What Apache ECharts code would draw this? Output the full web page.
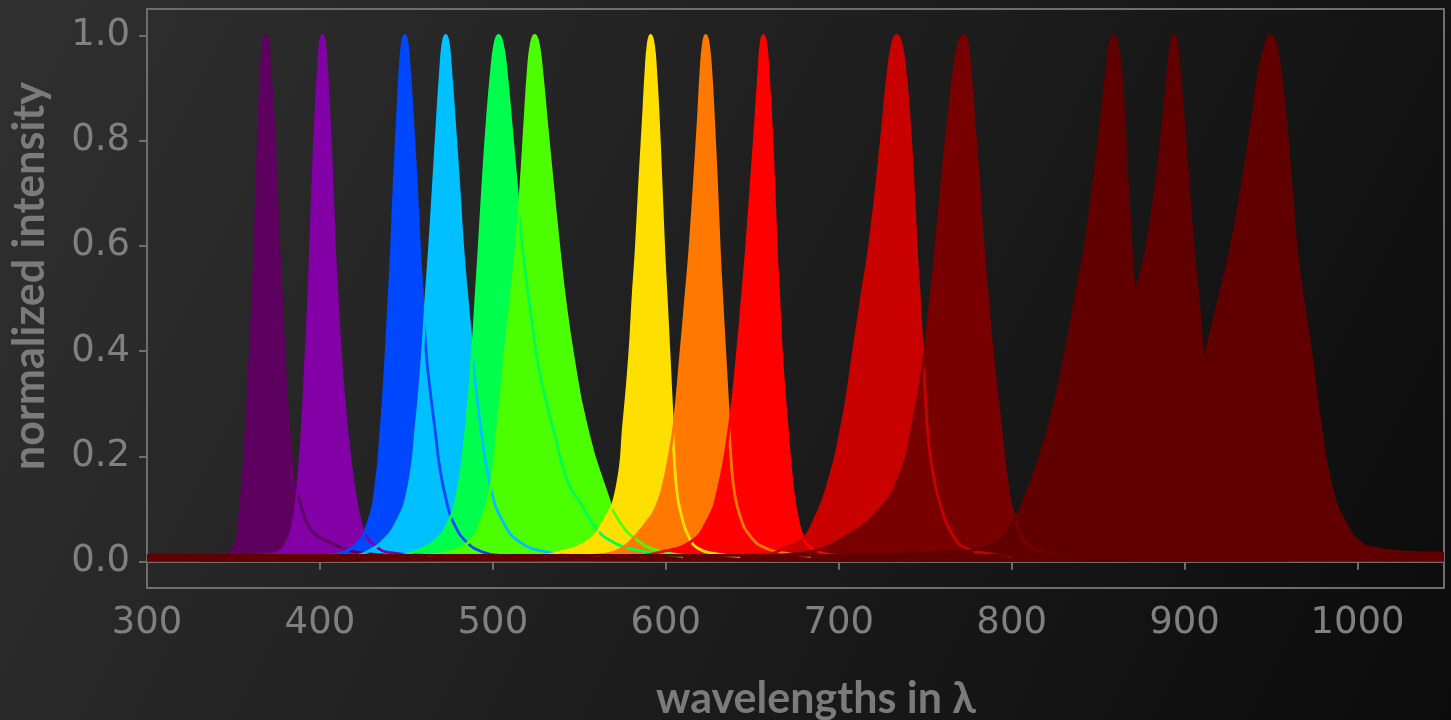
<!DOCTYPE html>
<html>
<head>
<meta charset="utf-8">
<script src="https://cdn.jsdelivr.net/npm/echarts@6/dist/echarts.min.js"></script>
<style>
html,body{margin:0;padding:0;background:#1c1c1c;}
#chart{width:1451px;height:720px;}
</style>
</head>
<body>
<div id="chart"></div>
<script>
// ---- tick labels ----
const xTicks = [300, 400, 500, 600, 700, 800, 900, 1000];
const yTicks = [0, 0.2, 0.4, 0.6, 0.8, 1.0];

// ---- series names (peak wavelengths) ----
const peakNames = ['367 nm','400 nm','448 nm','472 nm','503 nm','524 nm','591 nm','623 nm','656 nm','733 nm','771 nm','859 nm','894 nm','949 nm'];

// ---- series values: [wavelength, normalized intensity] ----
const peak367 = [[330,0.012],[344,0.014],[348,0.018],[351.5,0.037],[353.2,0.075],[355.1,0.138],[357.6,0.265],[359.6,0.391],[361.3,0.51],[362.3,0.587],[363.5,0.713],[364.8,0.839],[366.1,0.934],[367.3,0.985],[368.6,1.0],[370,0.985],[371.3,0.934],[373,0.839],[374.8,0.713],[376.4,0.587],[377.6,0.51],[379.4,0.391],[381.7,0.265],[385.5,0.15],[388.5,0.113],[392.3,0.075],[398,0.05],[405.8,0.037],[413.5,0.025],[421,0.018],[440,0.012]];
const peak400 = [[360,0.012],[372,0.014],[376,0.018],[381.1,0.037],[384.6,0.075],[387.1,0.138],[390,0.265],[391.9,0.391],[393.6,0.51],[394.5,0.587],[395.9,0.713],[397.5,0.839],[399.1,0.934],[400.2,0.985],[401.4,1.0],[402.7,0.985],[403.9,0.934],[405.4,0.839],[407.1,0.713],[408.6,0.587],[409.8,0.51],[412,0.391],[415.1,0.265],[419.7,0.138],[423.5,0.075],[427,0.047],[432.8,0.028],[438.6,0.018],[460,0.012]];
const peak448 = [[404,0.012],[413.5,0.018],[422.2,0.037],[428,0.075],[432.2,0.138],[435.7,0.265],[438.2,0.391],[440.1,0.51],[441.3,0.587],[442.9,0.713],[444.8,0.839],[446.3,0.934],[447.7,0.985],[449,1.0],[450.4,0.985],[451.7,0.934],[453.6,0.839],[455.8,0.713],[457.7,0.587],[459.2,0.51],[461.6,0.391],[463.6,0.328],[466.5,0.252],[469.4,0.176],[473.3,0.113],[477.1,0.075],[484.9,0.037],[494.5,0.018],[504,0.012]];
const peak472 = [[422,0.012],[427,0.018],[435.7,0.037],[444.4,0.075],[451.1,0.138],[455.9,0.265],[459.2,0.391],[461.5,0.51],[463.2,0.587],[465.6,0.713],[467.9,0.839],[469.8,0.934],[471.2,0.985],[472.7,1.0],[474.2,0.985],[475.6,0.934],[477.7,0.839],[480.3,0.713],[482.8,0.587],[484.8,0.51],[488.3,0.391],[492.6,0.265],[499,0.138],[506,0.075],[515.7,0.037],[531.1,0.018],[543.5,0.012]];
const peak503 = [[447,0.012],[454,0.018],[465.6,0.037],[474.3,0.075],[480,0.138],[484.9,0.265],[488.1,0.391],[490.4,0.51],[491.9,0.587],[494.2,0.713],[496.8,0.839],[499.3,0.934],[501.3,0.985],[503.3,1.0],[505.4,0.985],[507.6,0.934],[510.3,0.839],[513.7,0.713],[517.4,0.587],[520.4,0.51],[525.3,0.391],[529.1,0.328],[534.9,0.252],[543.5,0.15],[550.4,0.113],[560,0.062],[569.6,0.037],[579.3,0.025],[596.6,0.015],[610,0.01]];
const peak524 = [[462,0.012],[474,0.018],[486,0.037],[493,0.075],[498.7,0.138],[503.2,0.265],[507,0.391],[510.8,0.51],[513.3,0.587],[516.2,0.713],[518.6,0.839],[520.5,0.934],[522.3,0.985],[524.2,1.0],[526.2,0.985],[528.2,0.934],[530.9,0.839],[534.6,0.713],[538.5,0.587],[541.5,0.5],[546.3,0.391],[553.5,0.265],[564.9,0.138],[573.5,0.075],[585.1,0.037],[596.6,0.02],[610,0.012]];
const peak591 = [[530,0.012],[538.8,0.018],[554.2,0.037],[563.9,0.075],[571.6,0.138],[575.8,0.265],[579.1,0.391],[581.2,0.51],[582.8,0.587],[584.8,0.713],[587,0.839],[588.6,0.934],[589.9,0.985],[591.2,1.0],[592.7,0.985],[594.1,0.934],[595.7,0.839],[597.3,0.713],[598.9,0.587],[600.1,0.51],[601.9,0.391],[603.8,0.265],[606.2,0.138],[609.1,0.087],[613,0.049],[618.8,0.025],[629.4,0.015],[643,0.01]];
const peak623 = [[558,0.012],[569.6,0.018],[579,0.037],[589,0.075],[594,0.1],[598,0.138],[602,0.201],[605,0.265],[608.6,0.391],[611.8,0.51],[613.8,0.587],[616.4,0.713],[618.8,0.839],[620.4,0.934],[621.8,0.985],[623.1,1.0],[624.5,0.985],[626,0.934],[627.6,0.839],[629.4,0.713],[631,0.587],[632.2,0.51],[634.2,0.391],[636.4,0.265],[637.6,0.201],[639.4,0.138],[642.9,0.087],[648.7,0.049],[658.3,0.025],[671.8,0.015],[684,0.01]];
const peak656 = [[585,0.01],[596.6,0.018],[614,0.037],[623.6,0.075],[630.4,0.138],[637.1,0.265],[641.3,0.391],[644.5,0.51],[646.5,0.587],[649.3,0.713],[652,0.839],[653.9,0.934],[655.1,0.985],[656.4,1.0],[657.8,0.985],[659.1,0.934],[660.8,0.839],[662.5,0.713],[664,0.587],[665.2,0.51],[667,0.391],[669.9,0.265],[673.4,0.138],[676.6,0.075],[679.5,0.044],[681.4,0.033],[689.2,0.018],[700,0.012]];
const peak733 = [[640,0.012],[660,0.015],[668,0.025],[679.5,0.044],[685.3,0.075],[693,0.138],[702.2,0.265],[708.2,0.391],[713.6,0.51],[717.3,0.587],[721.9,0.713],[725.8,0.839],[728.7,0.934],[731.2,0.985],[733.5,1.0],[736,0.985],[738.3,0.934],[740.8,0.839],[743.1,0.713],[745,0.587],[746.5,0.51],[748.5,0.391],[749.8,0.328],[751.8,0.233],[754.7,0.164],[759.5,0.1],[766.3,0.049],[774,0.025],[787.5,0.015],[800,0.01]];
const peak771 = [[660,0.012],[681.4,0.018],[704.6,0.049],[723.9,0.1],[735.4,0.164],[743.1,0.265],[749.5,0.391],[753.5,0.51],[756,0.587],[759.5,0.713],[763.4,0.839],[766.8,0.934],[769.5,0.985],[772.1,1.0],[774.3,0.985],[775.9,0.934],[778.2,0.839],[781.1,0.713],[783.8,0.587],[785.8,0.51],[789,0.391],[793.3,0.265],[797.9,0.138],[802,0.081],[808.7,0.035],[820.3,0.018],[835,0.012]];
const peak859 = [[700,0.012],[760,0.018],[787.5,0.031],[802,0.081],[809.6,0.138],[816.4,0.201],[822.2,0.265],[830.8,0.391],[837.5,0.51],[842,0.587],[847.2,0.713],[851.9,0.839],[855,0.934],[857,0.985],[858.8,1.0],[860.8,0.985],[863,0.934],[865,0.839],[867,0.713],[869.3,0.587],[871.1,0.498],[874,0.35],[879,0.2],[886,0.1],[900,0.04],[930,0.015]];
const peak894 = [[815,0.015],[835,0.04],[848,0.1],[857,0.2],[863,0.3],[867.5,0.4],[871.3,0.498],[877.5,0.587],[883.5,0.713],[887.7,0.839],[890.6,0.934],[892.3,0.985],[893.9,1.0],[895.4,0.985],[896.9,0.934],[899.3,0.839],[902.2,0.713],[905.2,0.587],[907.9,0.498],[910.8,0.375],[913,0.25],[918,0.12],[928,0.05],[960,0.015]];
const peak949 = [[300,0.012],[820,0.012],[845,0.015],[865,0.03],[878,0.06],[889,0.12],[897,0.2],[905,0.3],[910.8,0.375],[919.8,0.498],[926.3,0.587],[933.2,0.713],[939.2,0.839],[943.2,0.934],[946.5,0.975],[949.4,1.0],[952.5,0.985],[955.2,0.934],[958.4,0.839],[961.6,0.713],[964.9,0.587],[968.5,0.498],[973.3,0.391],[978.3,0.265],[985.1,0.138],[992.8,0.075],[1001.4,0.037],[1011.1,0.025],[1028.4,0.018],[1050,0.016]];

const peaks = [peak367, peak400, peak448, peak472, peak503, peak524, peak591, peak623, peak656, peak733, peak771, peak859, peak894, peak949];
const peakColors = ['#5e005f','#8200a6','#0048ff','#00c0ff','#00ff4c','#4cff00','#ffdf00','#ff7800','#ff0000','#c80000','#780000','#600000','#600000','#600000'];

const gridLine = '#6e6e6e';
const textGrey = '#808080';

const series = [];
peaks.forEach((d, i) => {
  series.push({
    type: 'line', name: peakNames[i], data: d, symbol: 'none', showSymbol: false,
    smooth: 0.5, silent: true, z: 2,
    itemStyle: { color: peakColors[i] },
    lineStyle: { width: 0, color: peakColors[i] },
    areaStyle: { color: peakColors[i], opacity: 1 }
  });
});
peaks.forEach((d, i) => {
  series.push({
    type: 'line', name: peakNames[i], data: d, symbol: 'none', showSymbol: false,
    smooth: 0.5, silent: true, z: 3,
    itemStyle: { color: peakColors[i] },
    lineStyle: { width: 2.8, color: peakColors[i] }
  });
});

const chart = echarts.init(document.getElementById('chart'), null, { renderer: 'canvas' });
chart.setOption({
  animation: false,
  backgroundColor: new echarts.graphic.LinearGradient(0, 0, 1, 1, [
    { offset: 0, color: '#303030' },
    { offset: 0.5, color: '#1e1e1e' },
    { offset: 1, color: '#0b0b0b' }
  ]),
  grid: {
    left: 147, right: 7, top: 9, bottom: 132,
    show: true, borderColor: gridLine, borderWidth: 2, backgroundColor: 'transparent'
  },
  xAxis: {
    type: 'value', min: 300, max: 1050,
    axisLine: { show: true, lineStyle: { color: gridLine, width: 2 } },
    axisTick: { show: true, length: 8, customValues: xTicks, lineStyle: { color: gridLine, width: 2 } },
    axisLabel: { customValues: xTicks, color: textGrey, fontFamily: 'DejaVu Sans', fontSize: 37, margin: 17,
      formatter: v => String(v) },
    splitLine: { show: false }
  },
  yAxis: {
    type: 'value', min: -0.05, max: 1.05,
    axisLine: { show: true, lineStyle: { color: gridLine, width: 2 } },
    axisTick: { show: true, length: 8, customValues: yTicks, lineStyle: { color: gridLine, width: 2 } },
    axisLabel: { customValues: yTicks, color: textGrey, fontFamily: 'DejaVu Sans', fontSize: 37, margin: 17,
      formatter: v => v.toFixed(1) },
    splitLine: { show: false }
  },
  graphic: [
    { type: 'text', x: 816, y: 699, silent: true,
      style: { text: 'wavelengths in λ', fill: '#7b7b7b', font: 'bold 43px Lato', align: 'center', verticalAlign: 'middle' } },
    { type: 'text', x: 30, y: 276, rotation: Math.PI / 2, silent: true,
      style: { text: 'normalized intensity', fill: '#7b7b7b', font: 'bold 43px Lato', align: 'center', verticalAlign: 'middle' } }
  ],
  series: series
});
</script>
</body>
</html>
